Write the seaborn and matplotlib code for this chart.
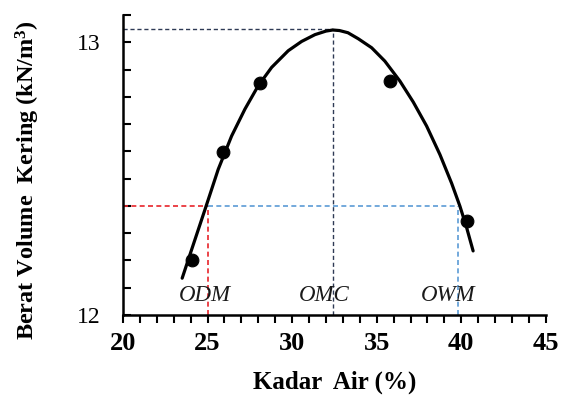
import numpy as np
import pandas as pd
import matplotlib
matplotlib.use("Agg")
import matplotlib.pyplot as plt
import seaborn as sns
from matplotlib.ticker import MultipleLocator

# Measured points
kadar_air = [24.06, 25.93, 28.10, 35.78, 40.31]
berat_volume = [12.20, 12.597, 12.85, 12.857, 12.346]

# Fitted compaction curve
curve_x = [23.50, 24.06, 24.85, 25.63, 26.42, 27.21, 27.99, 28.79, 29.77, 30.56,
           31.35, 32.00, 32.40, 32.80, 33.30, 33.91, 34.70, 35.48, 36.37, 37.16,
           37.95, 38.74, 39.43, 39.92, 40.31, 40.70]
curve_y = [12.135, 12.240, 12.387, 12.534, 12.656, 12.755, 12.840, 12.908, 12.969, 13.003,
           13.028, 13.041, 13.045, 13.043, 13.035, 13.013, 12.980, 12.931, 12.858, 12.781,
           12.693, 12.588, 12.483, 12.399, 12.322, 12.235]

# Characteristic values
omc, gamma_max = 32.43, 13.05
odm, owm, gamma_90 = 25.0, 39.78, 12.40
labels = ["ODM", "OMC", "OWM"]
label_x = [24.85, 31.9, 39.2]
label_y = 12.072

x_ticks = [20, 25, 30, 35, 40, 45]
y_ticks = [12, 13]

sns.set_theme(style="white")
plt.rcParams["font.family"] = ["Liberation Serif", "DejaVu Serif"]
plt.rcParams["mathtext.fontset"] = "custom"
plt.rcParams["mathtext.rm"] = "Liberation Serif"
plt.rcParams["mathtext.bf"] = "Liberation Serif:bold"
plt.rcParams["text.color"] = "black"
plt.rcParams["xtick.color"] = "black"
plt.rcParams["ytick.color"] = "black"

fig = plt.figure(figsize=(5.68, 3.99), dpi=100)
ax = fig.add_axes([0.2165, 0.2105, 0.961 - 0.2165, 0.9624 - 0.2105])

# reference lines
navy = "#2e3a55"
red = "#e8242a"
blue = "#5b9bd5"
dash = (0, (3, 2))
ax.plot([20, omc], [gamma_max, gamma_max], ls=dash, color=navy, lw=1.0, zorder=1)
ax.plot([omc, omc], [12, gamma_max], ls=dash, color=navy, lw=1.0, zorder=1)
ax.plot([20, odm], [gamma_90, gamma_90], ls=dash, color=red, lw=1.2, zorder=1)
ax.plot([odm, odm], [12, gamma_90], ls=dash, color=red, lw=1.2, zorder=1)
ax.plot([odm, owm], [gamma_90, gamma_90], ls=dash, color=blue, lw=1.2, zorder=1)
ax.plot([owm, owm], [12, gamma_90], ls=dash, color=blue, lw=1.2, zorder=1)

curve = pd.DataFrame({"x": curve_x, "y": curve_y})
sns.lineplot(data=curve, x="x", y="y", sort=False, color="black", lw=2.3, ax=ax, zorder=3)
pts = pd.DataFrame({"x": kadar_air, "y": berat_volume})
sns.scatterplot(data=pts, x="x", y="y", color="black", s=85, edgecolor="black", ax=ax, zorder=4)

for t, lx in zip(labels, label_x):
    ax.text(lx, label_y, t, ha="center", va="center", fontsize=16.5, style="italic",
            color="#1a1a1a")

ax.set_xlim(20, 45)
ax.set_ylim(12, 13.1)
ax.set_xticks(x_ticks)
ax.set_yticks(y_ticks)
ax.xaxis.set_minor_locator(MultipleLocator(1))
ax.yaxis.set_minor_locator(MultipleLocator(0.1))
ax.tick_params(axis="x", which="both", direction="out", length=6, width=1.5, color="black",
               labelcolor="black", bottom=True, labelsize=19, pad=6)
ax.tick_params(axis="y", which="both", direction="in", length=6, width=1.5, color="black",
               labelcolor="black", left=True, labelsize=17, pad=16)
for lab in ax.get_xticklabels():
    lab.set_fontweight("bold")

for s in ["top", "right"]:
    ax.spines[s].set_visible(False)
for s in ["left", "bottom"]:
    ax.spines[s].set_color("black")
    ax.spines[s].set_linewidth(1.8)

ax.set_xlabel("")
ax.set_ylabel("")
fig.text(335 / 568, 1 - 382 / 399, "Kadar  Air (%)", fontsize=18, fontweight="bold",
         ha="center", va="center", color="black")
fig.text(28 / 568, 1 - 180 / 399, "Berat Volume  Kering (kN/m$\\mathbf{^3}$)", fontsize=17.5,
         fontweight="bold", ha="center", va="center", rotation=90, color="black")
ax.set_facecolor("white")

fig.savefig("out.png", dpi=100, facecolor="white")
